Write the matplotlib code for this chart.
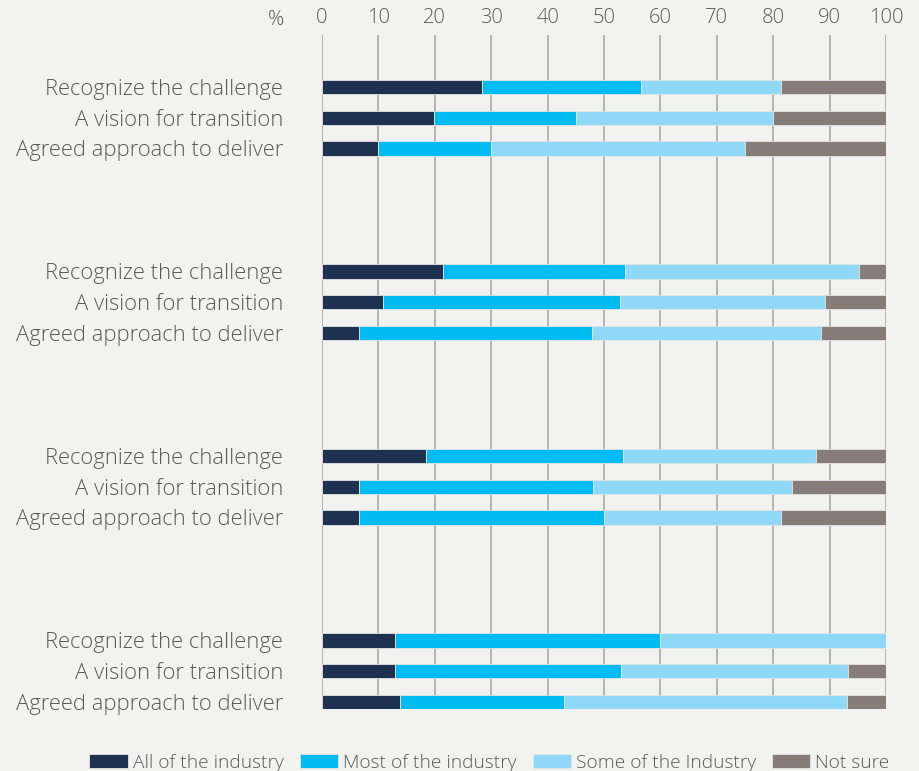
import numpy as np
import matplotlib.pyplot as plt

plt.rcParams['font.family'] = ['Open Sans', 'DejaVu Sans']
plt.rcParams['font.weight'] = 'light'

rows = ['Recognize the challenge', 'A vision for transition', 'Agreed approach to deliver']
series = ['All of the industry', 'Most of the industry', 'Some of the Industry', 'Not sure']
colors = ['#1f3150', '#00bcf2', '#8fd8f7', '#877c78']

# shares per row, four groups of three rows (top to bottom)
all_ind = [28.3, 19.8, 9.9, 21.4, 10.8, 6.5, 18.4, 6.5, 6.5, 13.0, 13.0, 13.9]
most_ind = [28.3, 25.2, 20.1, 32.3, 42.0, 41.4, 34.9, 41.5, 43.5, 47.0, 40.0, 29.0]
some_ind = [24.7, 35.0, 45.0, 41.5, 36.4, 40.6, 34.3, 35.3, 31.3, 40.0, 40.2, 50.2]
not_sure = [18.7, 20.0, 25.0, 4.8, 10.8, 11.5, 12.4, 16.7, 18.7, 0.0, 6.8, 6.9]

xticks = list(range(0, 101, 10))

# each group takes six slots: three bars and three empty ones
pos = np.array([g * 6 + r for g in range(4) for r in range(3)], dtype=float)
labels = rows * 4

fig = plt.figure(figsize=(9.2, 7.71), dpi=100)
bg = '#f2f2f0'
fig.patch.set_facecolor(bg)
ax = fig.add_axes([322 / 920, 1 - 709 / 771, 564 / 920, 674 / 771])
ax.set_facecolor(bg)

left = np.zeros(len(pos))
for vals, c, name in zip([all_ind, most_ind, some_ind, not_sure], colors, series):
    ax.barh(pos, vals, left=left, height=0.46, color=c, label=name,
            edgecolor='#e4e4e4', linewidth=0.6, zorder=3)
    left += np.array(vals)

ax.set_xlim(0, 100)
ax.set_ylim(20.23, -1.69)
ax.set_xticks(xticks)
ax.xaxis.tick_top()
ax.tick_params(axis='x', length=0, pad=5, labelsize=14.5, labelcolor='#595959')
ax.set_yticks(pos)
ax.set_yticklabels(labels)
ax.tick_params(axis='y', length=0, pad=28, labelsize=15.8, labelcolor='#595959')
for t in ax.get_yticklabels():
    t.set_horizontalalignment('right')

ax.grid(axis='x', color='#a8a8a8', linewidth=1.2, zorder=0)
for s in ax.spines.values():
    s.set_visible(False)

fig.text(276 / 920, 1 - 20 / 771, '%', ha='center', va='center',
         fontsize=14.5, color='#595959')

fig.legend(loc='center', bbox_to_anchor=(0.532, 1 - 763 / 771), ncol=4,
           frameon=False, fontsize=13.8, labelcolor='#595959',
           handlelength=2.0, handleheight=0.75, handletextpad=0.25,
           columnspacing=0.85, borderaxespad=0)

fig.savefig('out.png', dpi=100, facecolor=bg)
